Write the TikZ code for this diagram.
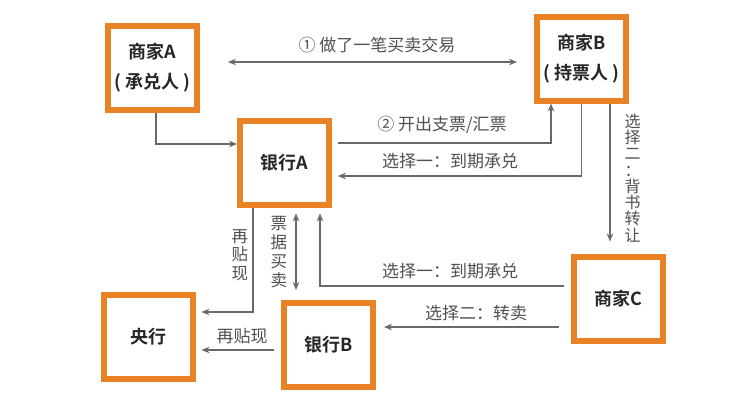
\documentclass[tikz,border=0pt]{standalone}
\usepackage{fontspec}
\setmainfont[BoldFont={Noto Sans CJK SC Bold}]{Noto Sans CJK SC}
\usetikzlibrary{arrows.meta, positioning, calc}
\definecolor{boxorange}{RGB}{233, 130, 36}
\definecolor{linegray}{RGB}{105, 105, 105}
\definecolor{textgray}{RGB}{80, 80, 80}
\tikzset{
  party/.style={draw=boxorange, line width=6pt, fill=white, minimum width=89pt, minimum height=84pt,
    align=center, font=\fontsize{18}{30}\selectfont\bfseries, text=black!85},
  flow/.style={draw=linegray, line width=1.2pt, >={Stealth[length=8pt, width=6.5pt]}},
  lbl/.style={text=textgray, font=\fontsize{17}{19}\selectfont, inner sep=0pt},
  vlbl/.style={lbl, align=center, text width=1.1em}
}

\begin{document}
\begin{tikzpicture}[x=1pt, y=-1pt]
  \useasboundingbox[fill=white] (0,0) rectangle (744,407);

  % Parties
  \node[party] (merchA) at (152.5, 67.5) {商家A\\( 承兑人 )};
  \node[party] (merchB) at (581.5, 58.5) {商家B\\( 持票人 )};
  \node[party] (bankA) at (284.5, 162.5) {银行A};
  \node[party] (merchC) at (618.5, 298.5) {商家C};
  \node[party] (central) at (148, 336.5) {央行};
  \node[party] (bankB) at (328.5, 345) {银行B};

  % Flows
  \draw[flow, <->, shorten <=28pt, shorten >=17pt] (merchA.east |- 0,62) -- (merchB.west |- 0,62);
  \draw[flow, ->] ([xshift=3.5pt]merchA.south) |- (bankA.west |- 0,144);
  \draw[flow, ->, shorten <=6pt] (bankA.east |- 0,143) -| ([xshift=-30.5pt]merchB.south);
  \draw[flow, ->, shorten >=6pt] (merchB.south) |- (bankA.east |- 0,176);
  \coordinate (endorse) at ([xshift=28.5pt]merchB.south);
  \draw[flow, ->, shorten >=12pt] (endorse) -- (endorse |- merchC.north);
  \coordinate (rediscTop) at ([xshift=-31.5pt]bankA.south);
  \draw[flow, ->, shorten >=6pt] (rediscTop) |- (central.east |- 0,312);
  \coordinate (tradeTop) at ([xshift=11.5pt]bankA.south);
  \draw[flow, <->, shorten <=6pt, shorten >=10pt] (tradeTop) -- (tradeTop |- bankB.north);
  \draw[flow, ->, shorten <=7pt, shorten >=6pt] (merchC.west |- 0,286) -| ([xshift=35.5pt]bankA.south);
  \draw[flow, ->, shorten <=12pt, shorten >=8pt] (merchC.west |- 0,327) -- (bankB.east |- 0,327);
  \draw[flow, ->, shorten <=7pt, shorten >=6pt] (bankB.west |- 0,350) -- (central.east |- 0,350);

  % Labels
  \node[lbl] (deal) at (377, 45) {① 做了一笔买卖交易};
  \node[lbl] (issue) at (442, 125) {② 开出支票/汇票};
  \node[lbl] (optBA) at (450, 161) {选择一：到期承兑};
  \node[vlbl, font=\fontsize{16}{16.3}\selectfont] (optBC) at (630, 178) {选\\择\\二\\：\\背\\书\\转\\让};
  \node[vlbl, font=\fontsize{16.5}{18.5}\selectfont] (rediscA) at (237, 255) {再\\贴\\现};
  \node[vlbl, font=\fontsize{16.5}{19}\selectfont] (trade) at (276, 252) {票\\据\\买\\卖};
  \node[lbl] (optCA) at (450, 271) {选择一：到期承兑};
  \node[lbl] (optCB) at (476, 313) {选择二：转卖};
  \node[lbl] (rediscB) at (242, 336) {再贴现};
\end{tikzpicture}
\end{document}
